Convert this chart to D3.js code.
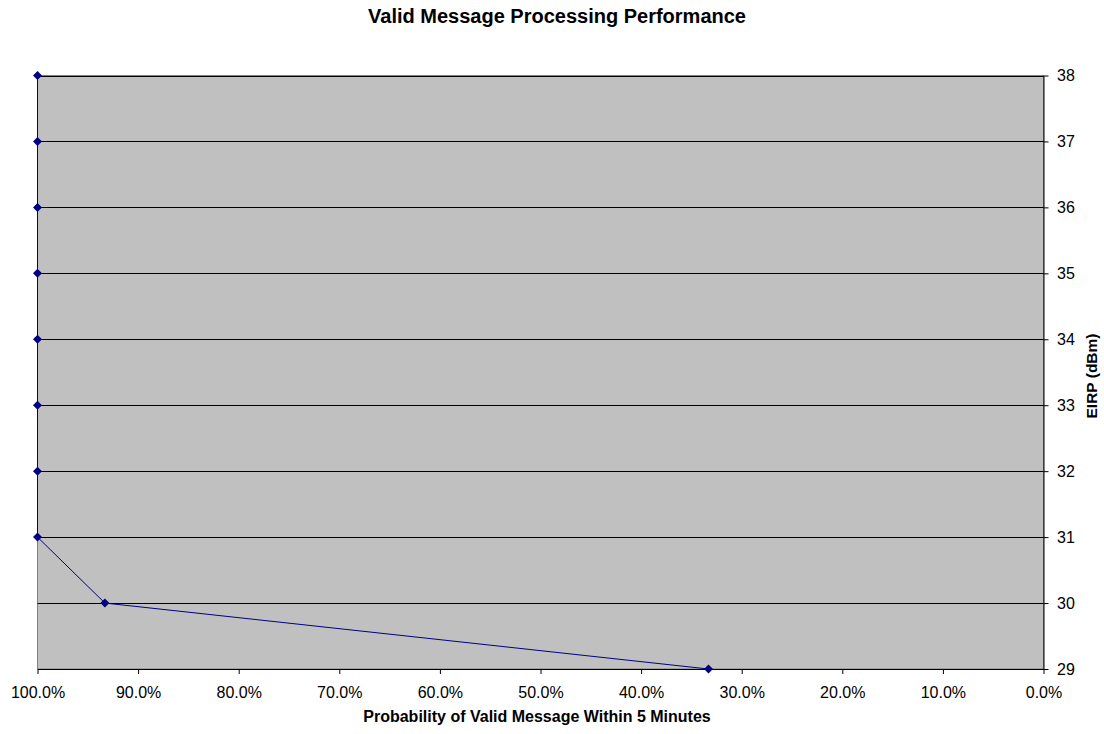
<!DOCTYPE html>
<html><head><meta charset="utf-8">
<script src="https://cdn.jsdelivr.net/npm/d3@7"></script>
<style>body{margin:0;background:#fff;}svg{display:block;font-family:"Liberation Sans",Arial,sans-serif;}</style>
</head><body>
<svg id="c" width="1104" height="734"></svg>
<script>
const probability = [1.0, 1.0, 1.0, 1.0, 1.0, 1.0, 1.0, 1.0, 0.933, 0.333];
const eirp = [38, 37, 36, 35, 34, 33, 32, 31, 30, 29];
const xTicks = [1.0, 0.9, 0.8, 0.7, 0.6, 0.5, 0.4, 0.3, 0.2, 0.1, 0.0];
const yTicks = [29, 30, 31, 32, 33, 34, 35, 36, 37, 38];
const title = "Valid Message Processing Performance";
const xTitle = "Probability of Valid Message Within 5 Minutes";
const yTitle = "EIRP (dBm)";

const L = 37.5, R = 1043.5, T = 75.5, B = 669;
const svg = d3.select("#c");
const x = d3.scaleLinear().domain([1, 0]).range([L, R]);
const y = d3.scaleLinear().domain([29, 38]).range([B, T]);

svg.append("rect").attr("x", L).attr("y", T).attr("width", R - L).attr("height", B - T)
  .attr("fill", "#c0c0c0").attr("stroke", "#808080").attr("stroke-width", 1);

svg.append("g").selectAll("line").data(yTicks.filter(d => d !== 29)).join("line")
  .attr("x1", L).attr("x2", R).attr("y1", d => Math.round(y(d)) + 0.5).attr("y2", d => Math.round(y(d)) + 0.5)
  .attr("stroke", "#000").attr("stroke-width", 1);

const xa = svg.append("g").attr("transform", `translate(0,${B})`)
  .call(d3.axisBottom(x).tickValues(xTicks).tickFormat(d3.format(".1%")).tickSize(5).tickPadding(12.5).tickSizeOuter(0));
xa.select(".domain").attr("stroke", "#000");
xa.selectAll("text").attr("font-size", 16).attr("fill", "#000").attr("font-family", "Liberation Sans, Arial, sans-serif");

const ya = svg.append("g").attr("transform", `translate(${R},0)`)
  .call(d3.axisRight(y).tickValues(yTicks).tickFormat(d3.format("d")).tickSize(5).tickPadding(8.5).tickSizeOuter(0));
ya.select(".domain").attr("stroke", "#000");
ya.selectAll("text").attr("font-size", 16).attr("fill", "#000").attr("font-family", "Liberation Sans, Arial, sans-serif");

const pts = probability.map((p, i) => [p, eirp[i]]);
svg.append("path").datum(pts)
  .attr("d", d3.line().x(d => x(d[0])).y(d => y(d[1])))
  .attr("fill", "none").attr("stroke", "#000080").attr("stroke-width", 1);

svg.append("g").selectAll("path").data(pts).join("path")
  .attr("transform", d => `translate(${x(d[0])},${y(d[1])})`)
  .attr("d", "M0,-4.5L4.5,0L0,4.5L-4.5,0Z")
  .attr("fill", "#000080");

svg.append("text").attr("x", 557).attr("y", 23).attr("text-anchor", "middle")
  .attr("font-size", 20).attr("font-weight", "bold").text(title);
svg.append("text").attr("x", 537).attr("y", 722).attr("text-anchor", "middle")
  .attr("font-size", 16).attr("font-weight", "bold").text(xTitle);
svg.append("text").attr("transform", `translate(1097,376) rotate(-90)`).attr("text-anchor", "middle")
  .attr("font-size", 15.5).attr("font-weight", "bold").text(yTitle);
</script>
</body></html>
